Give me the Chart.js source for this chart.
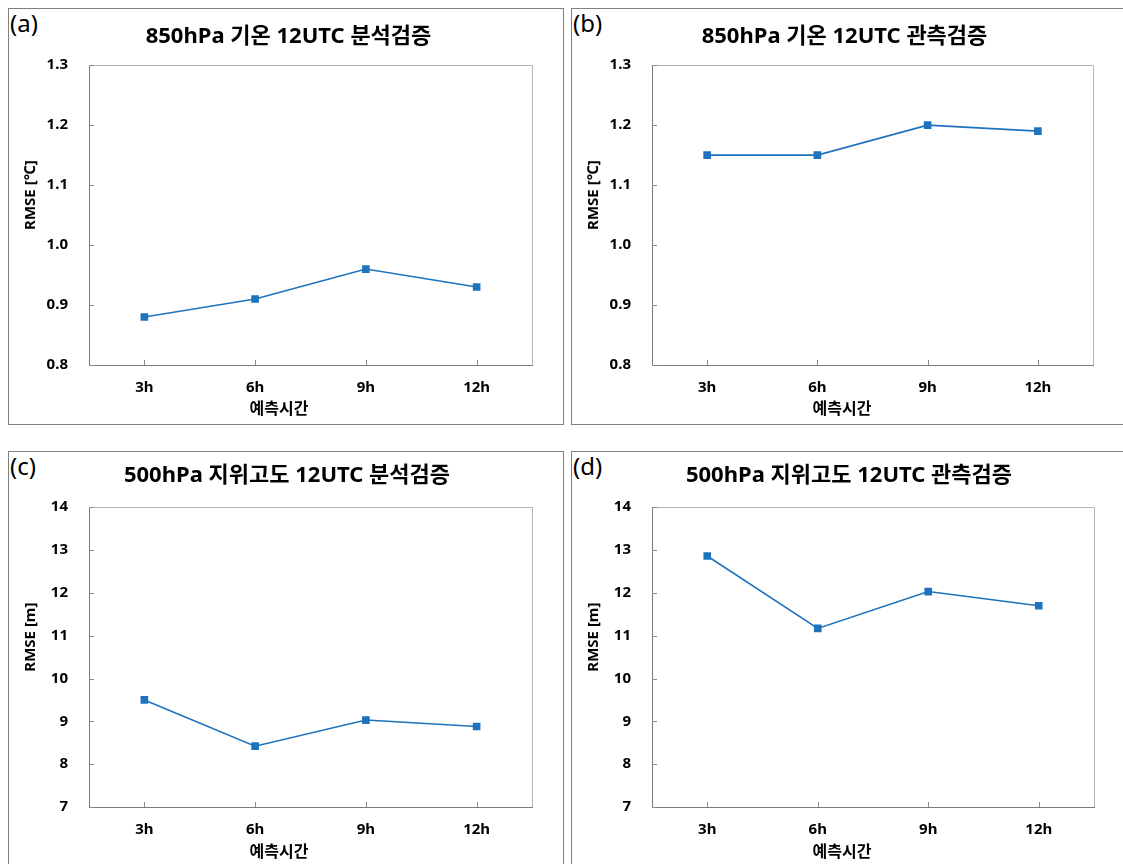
<!DOCTYPE html>
<html>
<head>
<meta charset="utf-8">
<script src="https://cdn.jsdelivr.net/npm/chart.js@4"></script>
<style>
  html, body { margin: 0; padding: 0; background: #fff; }
  body { width: 1123px; height: 864px; position: relative; overflow: hidden; }
  .frame { position: absolute; border: 1px solid #808080; box-sizing: border-box; }
  .frame canvas { position: absolute; left: 0; top: 0; }
  .tag { position: absolute; left: 1px; top: 2px; font: 24px 'Noto Sans', sans-serif; line-height: 1; color: #000; }
</style>
</head>
<body>
<div class="frame" style="left:8px;top:8px;width:556px;height:417px;"><span class="tag">(a)</span><canvas id="ca"></canvas></div>
<div class="frame" style="left:571px;top:8px;width:560px;height:417px;"><span class="tag">(b)</span><canvas id="cb"></canvas></div>
<div class="frame" style="left:8px;top:451px;width:556px;height:430px;"><span class="tag">(c)</span><canvas id="cc"></canvas></div>
<div class="frame" style="left:571px;top:451px;width:560px;height:430px;"><span class="tag">(d)</span><canvas id="cd"></canvas></div>
<script>
const hours = ['3h', '6h', '9h', '12h'];

const tempAnalysis = [0.88, 0.91, 0.96, 0.93];
const tempObs = [1.15, 1.15, 1.20, 1.19];
const gphAnalysis = [9.5, 8.42, 9.03, 8.88];
const gphObs = [12.86, 11.17, 12.03, 11.7];

const titles = [
  '850hPa 기온 12UTC 분석검증',
  '850hPa 기온 12UTC 관측검증',
  '500hPa 지위고도 12UTC 분석검증',
  '500hPa 지위고도 12UTC 관측검증'
];
const yTitles = ['RMSE [℃]', 'RMSE [℃]', 'RMSE [m]', 'RMSE [m]'];
const xTitle = '예측시간';

const FONT = "'Noto Sans', 'Noto Sans CJK KR', sans-serif";
const BLUE = '#1f72bd';
const PLOT_LEFT = 80;

// ticks drawn inward + light top/right edges of the plot box
const innerTicks = {
  id: 'innerTicks',
  beforeDatasetsDraw(chart) {
    const { ctx, chartArea: a, scales: { x, y } } = chart;
    ctx.save();
    ctx.lineWidth = 1;
    ctx.strokeStyle = '#b4b4b4';
    ctx.beginPath();
    ctx.moveTo(a.left, Math.round(a.top) + 0.5);
    ctx.lineTo(Math.round(a.right) + 0.5, Math.round(a.top) + 0.5);
    ctx.lineTo(Math.round(a.right) + 0.5, a.bottom);
    ctx.stroke();
    ctx.strokeStyle = '#8c8c8c';
    ctx.beginPath();
    y.ticks.forEach((t, i) => {
      const p = Math.round(y.getPixelForTick(i)) + 0.5;
      ctx.moveTo(a.left, p);
      ctx.lineTo(a.left + 5, p);
    });
    x.ticks.forEach((t, i) => {
      const p = Math.round(x.getPixelForTick(i)) + 0.5;
      ctx.moveTo(p, a.bottom);
      ctx.lineTo(p, a.bottom - 5);
    });
    ctx.stroke();
    ctx.restore();
  }
};

// axis titles sit off the plot centre in the original, so place them by hand
const axisTitles = {
  id: 'axisTitles',
  afterDraw(chart, args, opts) {
    const { ctx, chartArea: a } = chart;
    ctx.save();
    ctx.fillStyle = '#000';
    ctx.textAlign = 'center';
    ctx.textBaseline = 'middle';
    ctx.font = 'bold 16px ' + FONT;
    ctx.fillText(opts.x, opts.xCenter, chart.height - opts.xFromBottom);
    ctx.translate(22, (a.top + a.bottom) / 2 - 20);
    ctx.rotate(-Math.PI / 2);
    ctx.font = 'bold 15px ' + FONT;
    ctx.fillText(opts.y, 0, 0);
    ctx.restore();
  }
};

function makeChart(id, w, h, data, idx, yMin, yMax, step, decimals, titleTop, titleBottom, padLeft, padRight, xHeight, xFromBottom) {
  const cv = document.getElementById(id);
  cv.width = w;
  cv.height = h;
  return new Chart(cv, {
    type: 'line',
    data: {
      labels: hours,
      datasets: [{
        data: data,
        borderColor: BLUE,
        backgroundColor: BLUE,
        borderWidth: 1.6,
        pointStyle: 'rect',
        pointRadius: 5.4,
        pointBorderWidth: 0,
        tension: 0
      }]
    },
    options: {
      responsive: false,
      animation: false,
      devicePixelRatio: 1,
      layout: { padding: { left: padLeft, right: padRight, top: 0, bottom: 0 } },
      plugins: {
        legend: { display: false },
        tooltip: { enabled: false },
        title: {
          display: true,
          text: titles[idx],
          color: '#000',
          font: { family: FONT, size: 22, weight: 'bold', lineHeight: 1.2 },
          padding: { top: titleTop, bottom: titleBottom }
        },
        axisTitles: { x: xTitle, y: yTitles[idx], xCenter: 270, xFromBottom: xFromBottom }
      },
      scales: {
        x: {
          offset: true,
          grid: { display: false, drawTicks: false },
          border: { display: true, color: '#7a7a7a', width: 1 },
          ticks: { color: '#000', padding: 14, font: { family: FONT, size: 15, weight: 'bold' } },
          afterFit(s) { s.height = xHeight; }
        },
        y: {
          min: yMin, max: yMax,
          grid: { display: false, drawTicks: false },
          border: { display: true, color: '#7a7a7a', width: 1 },
          ticks: {
            stepSize: step, color: '#000', padding: 21,
            font: { family: FONT, size: 15, weight: 'bold' },
            callback: v => Number(v).toFixed(decimals)
          },
          afterFit(s) { s.width = PLOT_LEFT - padLeft; }
        }
      }
    },
    plugins: [innerTicks, axisTitles]
  });
}

// canvases sit inside 1px frame borders
makeChart('ca', 554, 415, tempAnalysis, 0, 0.8, 1.3, 0.1, 1, 15, 14.8, 36, 31, 59, 15);
makeChart('cb', 551, 415, tempObs, 1, 0.8, 1.3, 0.1, 1, 15, 14.8, 24, 30, 59, 15);
makeChart('cc', 554, 412, gphAnalysis, 2, 7, 14, 1, 0, 10.8, 18, 33, 31, 57, 12);
makeChart('cd', 551, 412, gphObs, 3, 7, 14, 1, 0, 10.8, 18, 32, 29, 57, 12);
</script>
</body>
</html>
